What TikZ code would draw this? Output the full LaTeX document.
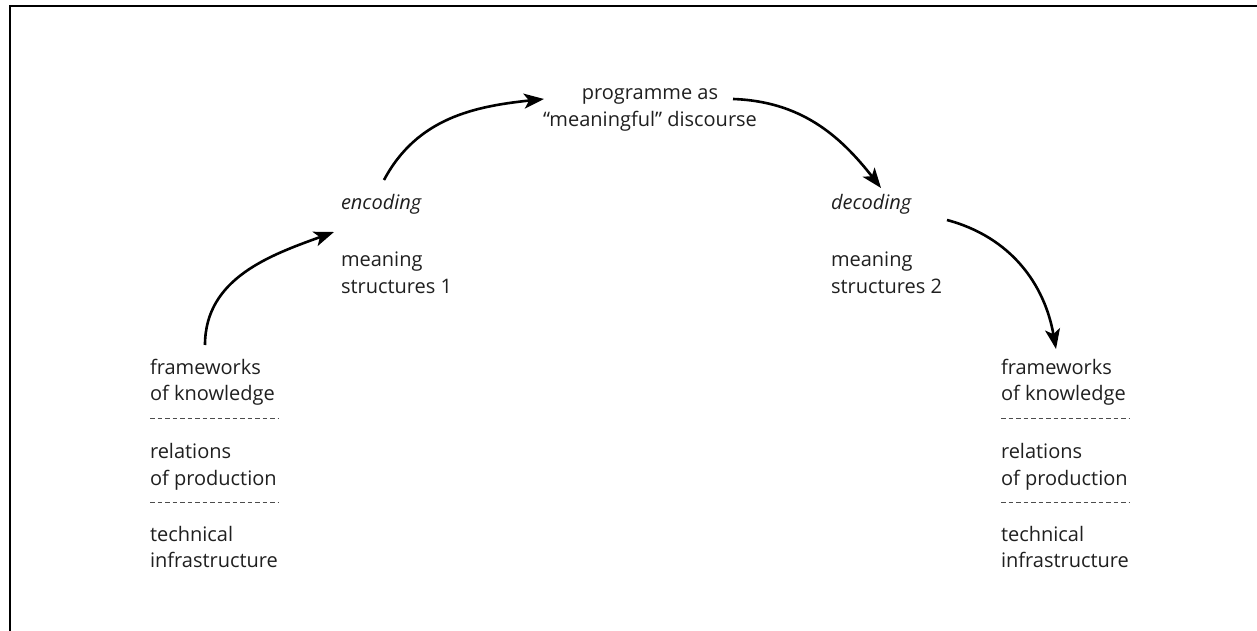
\documentclass[tikz,border=0pt]{standalone}
\usepackage{fontspec}
\setmainfont{Open Sans}
\usetikzlibrary{arrows.meta}

\tikzset{
  flow/.style={draw=black,line width=2.6pt,line cap=butt,-{Stealth[length=20pt,width=15pt,inset=5pt]}},
  sep/.style={draw=black!70,line width=1pt,dash pattern=on 4.5pt off 3pt},
  label/.style={font=\fontsize{20}{26.5}\selectfont,align=left,text=black!88},
}

\begin{document}
\begin{tikzpicture}[y=1pt,x=1pt,yscale=-1, inner sep=0pt, outer sep=0pt]
  \useasboundingbox (0,0) rectangle (1257,631);
  \path[draw=black,line width=2.5pt] (10,631) -- (10,6) -- (1257,6);

  % top
  \path (650,110) node[label,align=center] (textProgramme)
    {programme as\\``meaningful'' discourse};

  % encoding side
  \path (341,204) node[label,right] (textEncoding) {\itshape encoding};
  \path (341,273) node[label,right] (textMeaning1) {meaning\\structures 1};
  % decoding side
  \path (831,204) node[label,right] (textDecoding) {\itshape decoding};
  \path (831,273) node[label,right] (textMeaning2) {meaning\\structures 2};

  % left stack
  \path (150,382) node[label,right] (textFramesL) {frameworks\\of knowledge};
  \path (150,467) node[label,right] (textRelationsL) {relations\\of production};
  \path (150,547) node[label,right] (textTechnicalL) {technical\\infrastructure};
  \path[sep] (150,418) -- (278,418);
  \path[sep] (150,502) -- (278,502);

  % right stack
  \path (1001,382) node[label,right] (textFramesR) {frameworks\\of knowledge};
  \path (1001,467) node[label,right] (textRelationsR) {relations\\of production};
  \path (1001,547) node[label,right] (textTechnicalR) {technical\\infrastructure};
  \path[sep] (1001,418) -- (1129,418);
  \path[sep] (1001,502) -- (1129,502);

  % arrow ends
  \coordinate (arrowA0) at (205,345);
  \coordinate (arrowA1) at (334,232);
  \coordinate (arrowB0) at (384,180);
  \coordinate (arrowB1) at (544,99);
  \coordinate (arrowC0) at (733,99);
  \coordinate (arrowC1) at (881,188);
  \coordinate (arrowD0) at (947,220);
  \coordinate (arrowD1) at (1056,349);

  \draw[flow] (arrowA0) to[out=-90,in=160] (arrowA1);
  \draw[flow] (arrowB0) to[out=-62,in=174] (arrowB1);
  \draw[flow] (arrowC0) to[out=2,in=-128] (arrowC1);
  \draw[flow] (arrowD0) to[out=15,in=-100] (arrowD1);

\end{tikzpicture}
\end{document}
